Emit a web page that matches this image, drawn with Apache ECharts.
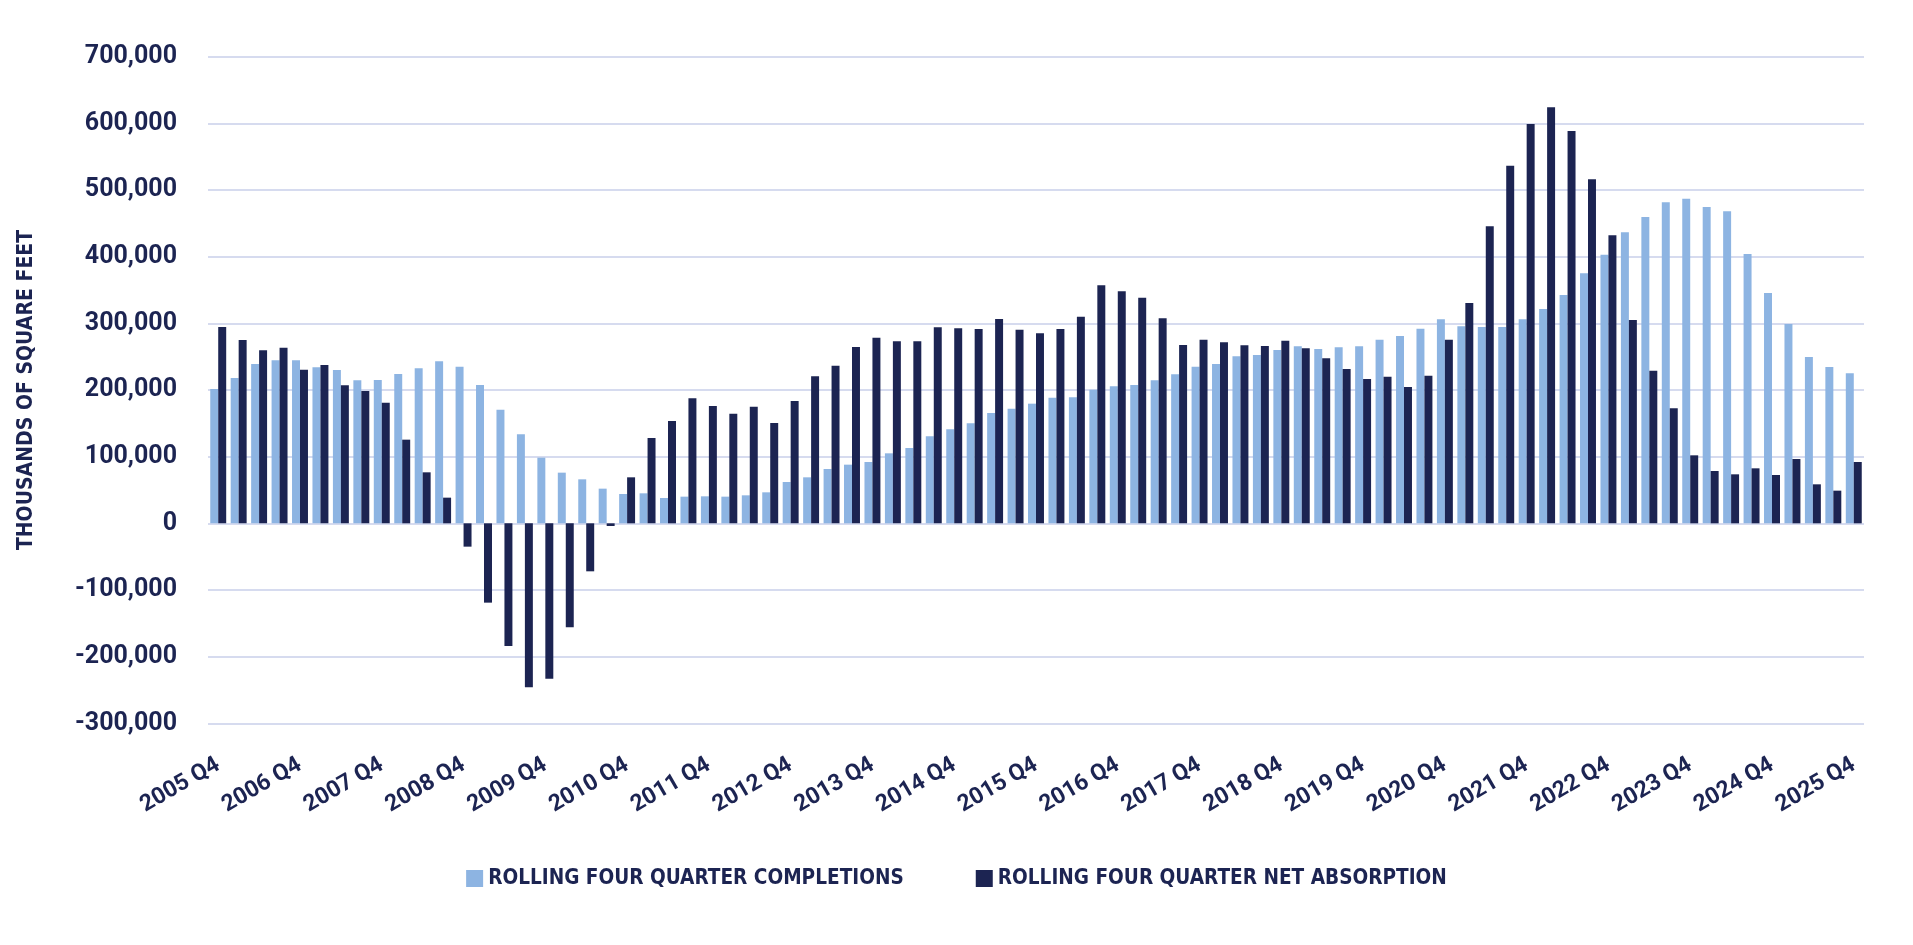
<!DOCTYPE html>
<html>
<head>
<meta charset="utf-8">
<script src="https://cdn.jsdelivr.net/npm/echarts@6/dist/echarts.min.js"></script>
<style>
html,body{margin:0;padding:0;background:#fff;}
#chart{width:1913px;height:945px;}
</style>
</head>
<body>
<div id="chart"></div>
<script>
const categories = [
 "2005 Q4","2006 Q1","2006 Q2","2006 Q3","2006 Q4","2007 Q1","2007 Q2","2007 Q3","2007 Q4",
 "2008 Q1","2008 Q2","2008 Q3","2008 Q4","2009 Q1","2009 Q2","2009 Q3","2009 Q4",
 "2010 Q1","2010 Q2","2010 Q3","2010 Q4","2011 Q1","2011 Q2","2011 Q3","2011 Q4",
 "2012 Q1","2012 Q2","2012 Q3","2012 Q4","2013 Q1","2013 Q2","2013 Q3","2013 Q4",
 "2014 Q1","2014 Q2","2014 Q3","2014 Q4","2015 Q1","2015 Q2","2015 Q3","2015 Q4",
 "2016 Q1","2016 Q2","2016 Q3","2016 Q4","2017 Q1","2017 Q2","2017 Q3","2017 Q4",
 "2018 Q1","2018 Q2","2018 Q3","2018 Q4","2019 Q1","2019 Q2","2019 Q3","2019 Q4",
 "2020 Q1","2020 Q2","2020 Q3","2020 Q4","2021 Q1","2021 Q2","2021 Q3","2021 Q4",
 "2022 Q1","2022 Q2","2022 Q3","2022 Q4","2023 Q1","2023 Q2","2023 Q3","2023 Q4",
 "2024 Q1","2024 Q2","2024 Q3","2024 Q4","2025 Q1","2025 Q2","2025 Q3","2025 Q4"
];

const completions = [
 201500, 218000, 239000, 244500, 244500, 234000, 230000, 214500, 215000, 224000,
 232500, 243000, 235000, 207500, 170500, 133500, 98500, 76000, 66000, 52000,
 44000, 45000, 38000, 40000, 40500, 40000, 42000, 46500, 62000, 69000,
 81500, 88000, 92000, 105000, 113000, 130500, 141000, 150000, 165500, 172000,
 179500, 188500, 189000, 200500, 205500, 207500, 214500, 223500, 235000, 239000,
 250500, 252500, 260000, 265500, 261500, 264000, 265500, 275500, 281000, 292000,
 306000, 295500, 294500, 294500, 306000, 321500, 342500, 375000, 403000, 436500,
 459500, 481500, 487000, 474500, 468000, 404000, 345500, 299000, 249500, 234500,
 225000
];

const netAbsorption = [
 294500, 275000, 259500, 263500, 230500, 237500, 207000, 198500, 181000, 125500,
 76500, 38500, -35000, -119000, -184000, -246000, -233000, -156000, -72000, -4000,
 69000, 128000, 153500, 187500, 176000, 164500, 175000, 150500, 183500, 220500,
 236500, 264500, 278500, 273000, 273000, 294000, 292500, 291500, 306500, 290500,
 285000, 291500, 310000, 357000, 348000, 338500, 307500, 267500, 275500, 271500,
 267000, 266000, 274000, 262500, 247500, 231500, 216500, 220000, 204500, 221500,
 275500, 330500, 445500, 536500, 599000, 624000, 588500, 516000, 432000, 305000,
 229000, 172500, 102000, 78500, 73500, 82500, 72500, 96500, 58500, 49000,
 92000
];

const seriesNames = ["ROLLING FOUR QUARTER COMPLETIONS", "ROLLING FOUR QUARTER NET ABSORPTION"];
const yAxisTitle = "THOUSANDS OF SQUARE FEET";

const NAVY = "#1c2452";
const LIGHT = "#8db4e2";
const condensed = "'DejaVu Sans Condensed', sans-serif";

const chart = echarts.init(document.getElementById('chart'), null, {renderer: 'canvas'});
chart.setOption({
  animation: false,
  backgroundColor: '#ffffff',
  grid: {left: 208, right: 49, top: 56.7, bottom: 221.7, outerBoundsMode: 'none'},
  legend: {
    left: 'center', top: 863,
    itemWidth: 17, itemHeight: 17, itemGap: 72,
    icon: 'rect',
    textStyle: {color: NAVY, fontFamily: condensed, fontWeight: 'bold', fontSize: 20.6},
    data: seriesNames
  },
  xAxis: {
    type: 'category',
    data: categories,
    axisLine: {show: false, onZero: false},
    axisTick: {show: false},
    axisLabel: {
      interval: 3, rotate: 30, margin: 40,
      color: NAVY, fontFamily: 'Roboto', fontWeight: 'bold', fontSize: 23
    },
    splitLine: {show: false}
  },
  yAxis: {
    type: 'value',
    min: -300000, max: 700000, interval: 100000,
    name: yAxisTitle,
    nameLocation: 'middle',
    nameRotate: 90,
    nameGap: 171,
    nameTextStyle: {color: NAVY, fontFamily: condensed, fontWeight: 'bold', fontSize: 21},
    axisLine: {show: false},
    axisTick: {show: false},
    axisLabel: {
      margin: 31,
      color: NAVY, fontFamily: 'Roboto', fontWeight: 'bold', fontSize: 25,
      formatter: v => v.toLocaleString('en-US')
    },
    splitLine: {lineStyle: {color: '#d6dbef', width: 2}}
  },
  series: [
    {name: seriesNames[0], type: 'bar', data: completions, barGap: '0%', barCategoryGap: '22%',
     itemStyle: {color: LIGHT}},
    {name: seriesNames[1], type: 'bar', data: netAbsorption, barGap: '0%', barCategoryGap: '22%',
     itemStyle: {color: NAVY}}
  ]
});
</script>
</body>
</html>
